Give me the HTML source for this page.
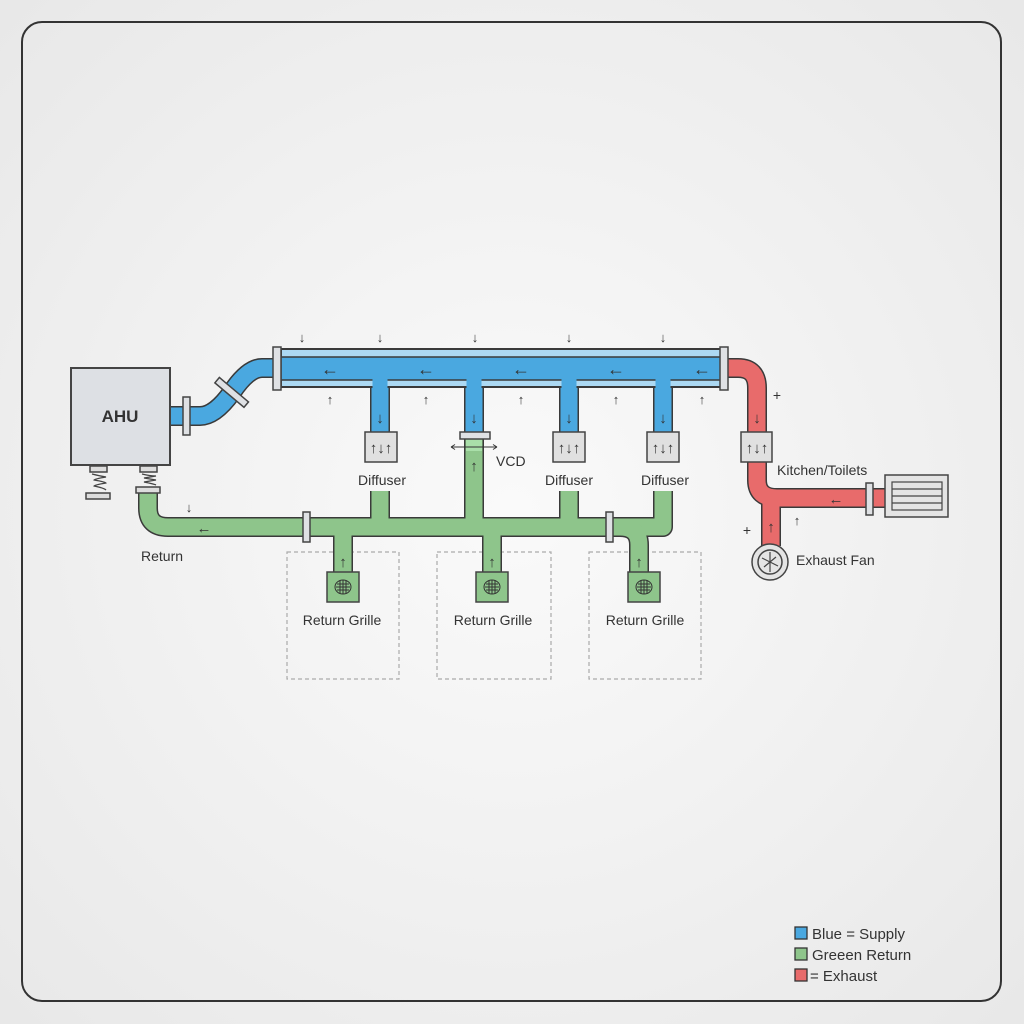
<!DOCTYPE html>
<html><head><meta charset="utf-8"><style>
html,body{margin:0;padding:0;background:#f1f1f1}
svg{display:block}
text{font-family:"Liberation Sans",sans-serif;fill:#333}
</style></head><body>
<svg width="1024" height="1024" viewBox="0 0 1024 1024" xmlns="http://www.w3.org/2000/svg">
<defs>
<radialGradient id="bg" cx="50%" cy="50%" r="70%"><stop offset="0" stop-color="#fafafa"/><stop offset="1" stop-color="#e8e8e8"/></radialGradient>
</defs>
<rect width="1024" height="1024" fill="url(#bg)"/>
<rect x="22" y="22" width="979" height="979" rx="20" fill="none" stroke="#333" stroke-width="2"/>

<g fill="none" stroke="#aaa" stroke-width="1.2" stroke-dasharray="4,3">
<rect x="287" y="552" width="112" height="127"/>
<rect x="437" y="552" width="114" height="127"/>
<rect x="589" y="552" width="112" height="127"/>
</g>

<g fill="none" stroke="#3a3a3a" stroke-width="20" stroke-linejoin="round" stroke-linecap="butt">
<path d="M148,493 V508 Q148,527 168,527 H663 V491"/>
<path d="M380,527 V491 M474,527 V439 M569,527 V491 M343,527 V572 M492,527 V572"/>
<path d="M620,527 Q639,527 639,545 V572"/>
<path d="M722,368 H738 Q757,368 757,388 V480 Q757,498 777,498 H885"/>
<path d="M771,498 V546"/>
<path d="M170,416 H200 Q215,416 232,392 Q248,368 262,368 H281"/>
<path d="M380,375 V432 M474,375 V432 M569,375 V432 M663,375 V432"/>
</g>
<g fill="none" stroke-width="17" stroke-linejoin="round">
<g stroke="#8ec58b">
<path d="M148,493 V508 Q148,527 168,527 H663 V491"/>
<path d="M380,527 V491 M474,527 V439 M569,527 V491 M343,527 V572 M492,527 V572"/>
<path d="M620,527 Q639,527 639,545 V572"/>
</g>
<g stroke="#e86b6b">
<path d="M722,368 H738 Q757,368 757,388 V480 Q757,498 777,498 H885"/>
<path d="M771,498 V546"/>
</g>
<g stroke="#4aa8e0">
<path d="M170,416 H200 Q215,416 232,392 Q248,368 262,368 H281"/>
<path d="M380,375 V432 M474,375 V432 M569,375 V432 M663,375 V432"/>
</g>
</g>
<rect x="281" y="349" width="441" height="38" fill="#acd9f3" stroke="#3a3a3a" stroke-width="2"/>
<rect x="281" y="357" width="441" height="23" fill="#4aa8e0" stroke="#3a3a3a" stroke-width="1.5"/>
<g stroke="#4aa8e0" stroke-width="15"><path d="M380,379 V390 M474,379 V390 M569,379 V390 M663,379 V390"/></g>
<rect x="466" y="439" width="16" height="12" fill="#a9dfa9"/>

<rect x="71" y="368" width="99" height="97" fill="#dde0e4" stroke="#444" stroke-width="2"/>
<text x="120" y="422" font-size="17" font-weight="bold" text-anchor="middle">AHU</text>
<g fill="#ddd" stroke="#444" stroke-width="1.5">
<rect x="90" y="466" width="17" height="6"/><rect x="86" y="493" width="24" height="6"/>
<rect x="140" y="466" width="17" height="6"/><rect x="136" y="487" width="24" height="6"/>
</g>
<g fill="none" stroke="#444" stroke-width="1.3">
<path d="M92,474 q8,2 14,3 q-12,2 -12,3 q12,2 12,3 q-12,2 -12,3 q10,2 12,4"/>
<path d="M142,474 q8,2 14,2 q-12,2 -12,2 q12,2 12,2 q-12,2 -12,2 q10,2 12,3"/>
</g>

<g fill="#dfe1e4" stroke="#444" stroke-width="1.5">
<rect x="183" y="397" width="7" height="38"/>
<rect x="228" y="373" width="7" height="38" transform="rotate(-50 232 392)"/>
<rect x="273" y="347" width="8" height="43"/>
<rect x="720" y="347" width="8" height="43"/>
<rect x="303" y="512" width="7" height="30"/>
<rect x="606" y="512" width="7" height="30"/>
<rect x="866" y="483" width="7" height="32"/>
<rect x="460" y="432" width="30" height="7"/>
</g>

<g fill="#e0e0e0" stroke="#444" stroke-width="1.5">
<rect x="365" y="432" width="32" height="30"/>
<rect x="553" y="432" width="32" height="30"/>
<rect x="647" y="432" width="32" height="30"/>
<rect x="741" y="432" width="31" height="30"/>
</g>
<g font-size="15" font-weight="bold" text-anchor="middle" fill="#333">
<text x="381" y="453">↑↓↑</text><text x="569" y="453">↑↓↑</text><text x="663" y="453">↑↓↑</text><text x="757" y="453">↑↓↑</text>
</g>

<g fill="#8ec58b" stroke="#444" stroke-width="1.5">
<rect x="327" y="572" width="32" height="30"/>
<rect x="476" y="572" width="32" height="30"/>
<rect x="628" y="572" width="32" height="30"/>
</g>
<g fill="none" stroke="#333" stroke-width="1">
<g id="gr"><ellipse cx="343" cy="587" rx="8" ry="7"/><path d="M337,584 H349 M336,587 H350 M337,590 H349 M340,580 V594 M343,580 V594 M346,580 V594"/></g>
<use href="#gr" x="149"/><use href="#gr" x="301"/>
</g>

<rect x="885" y="475" width="63" height="42" fill="#e4e4e4" stroke="#444" stroke-width="1.5"/>
<rect x="892" y="482" width="50" height="28" fill="none" stroke="#444" stroke-width="1.2"/>
<path d="M892,489 H942 M892,496 H942 M892,503 H942" stroke="#444" stroke-width="1.2"/>
<circle cx="770" cy="562" r="18" fill="#e4e4e4" stroke="#444" stroke-width="1.5"/>
<circle cx="770" cy="562" r="12" fill="none" stroke="#444" stroke-width="1.5"/>
<path d="M762,558 L778,566 M764,567 L776,557 M770,552 V572" stroke="#444" stroke-width="1.2"/>

<g font-size="18" text-anchor="middle" fill="#333">
<text x="330" y="375">←</text><text x="426" y="375">←</text><text x="521" y="375">←</text><text x="616" y="375">←</text><text x="702" y="375">←</text>
</g>
<g font-size="15" text-anchor="middle" fill="#333">
<text x="380" y="423">↓</text><text x="474" y="423">↓</text><text x="569" y="423">↓</text><text x="663" y="423">↓</text><text x="757" y="423">↓</text>
<text x="204" y="533">←</text><text x="474" y="471">↑</text><text x="343" y="567">↑</text><text x="492" y="567">↑</text><text x="639" y="567">↑</text>
<text x="836" y="504">←</text><text x="771" y="532">↑</text>
</g>
<g font-size="13" text-anchor="middle" fill="#3a9ee0">
<text x="302" y="342">↓</text><text x="380" y="342">↓</text><text x="475" y="342">↓</text><text x="569" y="342">↓</text><text x="663" y="342">↓</text>
<text x="330" y="404">↑</text><text x="426" y="404">↑</text><text x="521" y="404">↑</text><text x="616" y="404">↑</text><text x="702" y="404">↑</text>
</g>
<text x="777" y="400" font-size="14" text-anchor="middle" fill="#3cb8c8">+</text>
<text x="189" y="512" font-size="13" text-anchor="middle" fill="#5cb85c">↓</text>
<text x="747" y="535" font-size="14" text-anchor="middle" fill="#e05555">+</text>
<text x="797" y="525" font-size="13" text-anchor="middle" fill="#e05555">↑</text>
<path d="M451,447 H497 M451,447 l4,-2.5 M451,447 l4,2.5 M497,447 l-4,-2.5 M497,447 l-4,2.5" stroke="#333" stroke-width="1" fill="none"/>

<g font-size="14" fill="#333">
<text x="382" y="485" text-anchor="middle">Diffuser</text>
<text x="569" y="485" text-anchor="middle">Diffuser</text>
<text x="665" y="485" text-anchor="middle">Diffuser</text>
<text x="496" y="466">VCD</text>
<text x="141" y="561">Return</text>
<text x="342" y="625" text-anchor="middle">Return Grille</text>
<text x="493" y="625" text-anchor="middle">Return Grille</text>
<text x="645" y="625" text-anchor="middle">Return Grille</text>
<text x="777" y="475">Kitchen/Toilets</text>
<text x="796" y="565">Exhaust Fan</text>
</g>

<g stroke="#333" stroke-width="1.3">
<rect x="795" y="927" width="12" height="12" fill="#4aa8e0"/>
<rect x="795" y="948" width="12" height="12" fill="#8ec58b"/>
<rect x="795" y="969" width="12" height="12" fill="#e86b6b"/>
</g>
<g font-size="15" fill="#333">
<text x="812" y="939">Blue = Supply</text>
<text x="812" y="960">Greeen Return</text>
<text x="810" y="981">= Exhaust</text>
</g>
</svg>
</body></html>
